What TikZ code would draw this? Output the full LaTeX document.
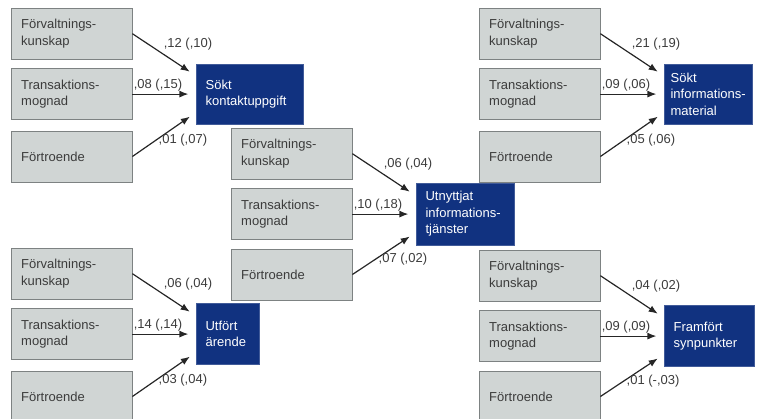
\documentclass[tikz,border=0pt]{standalone}
\usepackage{fontspec}
\setmainfont{Liberation Sans}
\usepackage{tikz}
\usetikzlibrary{positioning}
\usetikzlibrary{arrows.meta}
\definecolor{boxgray}{RGB}{208,213,212}
\definecolor{boxline}{RGB}{125,130,130}
\definecolor{navy}{RGB}{17,50,128}
\definecolor{txtgray}{RGB}{60,60,60}
\tikzset{
    %Define standard arrow tip
    >={Latex[length=9pt,width=7pt]},
    % Define arrow style
    pil/.style={
           ->,
           line width=1.2pt,
           black!85,
           shorten >=8pt,}
}
\newcommand{\nodewidth}{121pt}
\newcommand{\nodeheight}{51pt}
\newcommand{\kun}{Förvaltnings-\\kunskap}
\newcommand{\mog}{Transaktions-\\mognad}
\newcommand{\fort}{Förtroende}
\newcommand{\nohyph}{\hyphenpenalty=10000\exhyphenpenalty=10000\relax}

\begin{document}
\begin{tikzpicture}[x=1pt, y=-1pt, node distance=0pt]
\tikzstyle{nsrc}=[ draw=boxline,
                  rectangle,
                  minimum height=\nodeheight, minimum width=\nodewidth,
                  text width=101pt, inner xsep=10pt, align=left,
                  fill=boxgray, text=txtgray,
                  font=\fontsize{13}{16.5}\selectfont,
                  anchor=north west]
\tikzstyle{nres}=[ draw=navy!80,
                  rectangle,
                  text width=#1, inner xsep=9pt, align=left,
                  fill=navy, text=white,
                  font=\fontsize{13}{16.5}\selectfont\nohyph]
\tikzstyle{lab}=[ text=txtgray, inner sep=2pt,
                  font=\fontsize{13}{15}\selectfont]

\useasboundingbox (0,0) rectangle (760,418);

% kontaktuppgift
\node[nsrc] (kun1) at (11,8) {\kun};
\node[nsrc] (mog1) [below = 9pt of kun1]  {\mog};
\node[nsrc] (fort1) [below = 11pt of mog1] {\fort};
\node[nres=89pt, minimum height=60pt] (kont) [right = 64pt of mog1] {Sökt\\kontaktuppgift};

\path[pil] (kun1.east)  edge node[lab, pos=0.45, above right] {,12 (,10)} ([yshift=18pt]kont.west);
\path[pil] (mog1.east)  edge node[lab, pos=0.4, above] {,08 (,15)} (kont.west);
\path[pil] (fort1.east) edge node[lab, pos=0.37, right] {,01 (,07)} ([yshift=-18pt]kont.west);

% informationstjanster
\node[nsrc] (kun2) at (231,128) {\kun};
\node[nsrc] (mog2) [below = 9pt of kun2]  {\mog};
\node[nsrc] (fort2) [below = 9pt of mog2] {\fort};
\node[nres=80pt, minimum height=62pt] (tjan) [right = 64pt of mog2] {Utnyttjat\\informations-\\tjänster};

\path[pil] (kun2.east)  edge node[lab, pos=0.45, above right] {,06 (,04)} ([yshift=18pt]tjan.west);
\path[pil] (mog2.east)  edge node[lab, pos=0.4, above] {,10 (,18)} (tjan.west);
\path[pil] (fort2.east) edge node[lab, pos=0.37, right] {,07 (,02)} ([yshift=-18pt]tjan.west);

% informationsmaterial
\node[nsrc] (kun3) at (479,8) {\kun};
\node[nsrc] (mog3) [below = 9pt of kun3]  {\mog};
\node[nsrc] (fort3) [below = 11pt of mog3] {\fort};
\node[nres=76pt, inner xsep=6pt, minimum height=60pt] (mat) [right = 64pt of mog3] {Sökt\\informations-\\material};

\path[pil] (kun3.east)  edge node[lab, pos=0.45, above right] {,21 (,19)} ([yshift=18pt]mat.west);
\path[pil] (mog3.east)  edge node[lab, pos=0.4, above] {,09 (,06)} (mat.west);
\path[pil] (fort3.east) edge node[lab, pos=0.37, right] {,05 (,06)} ([yshift=-18pt]mat.west);

% arende
\node[nsrc] (kun4) at (11,248) {\kun};
\node[nsrc] (mog4) [below = 9pt of kun4]  {\mog};
\node[nsrc] (fort4) [below = 11pt of mog4] {\fort};
\node[nres=45pt, minimum height=61pt] (aren) [right = 64pt of mog4] {Utfört\\ärende};

\path[pil] (kun4.east)  edge node[lab, pos=0.45, above right] {,06 (,04)} ([yshift=18pt]aren.west);
\path[pil] (mog4.east)  edge node[lab, pos=0.4, above] {,14 (,14)} (aren.west);
\path[pil] (fort4.east) edge node[lab, pos=0.37, right] {,03 (,04)} ([yshift=-18pt]aren.west);

% synpunkter
\node[nsrc] (kun5) at (479,250) {\kun};
\node[nsrc] (mog5) [below = 9pt of kun5]  {\mog};
\node[nsrc] (fort5) [below = 9pt of mog5] {\fort};
\node[nres=72pt, minimum height=61pt] (synp) [right = 64pt of mog5] {Framfört\\synpunkter};

\path[pil] (kun5.east)  edge node[lab, pos=0.45, above right] {,04 (,02)} ([yshift=18pt]synp.west);
\path[pil] (mog5.east)  edge node[lab, pos=0.4, above] {,09 (,09)} (synp.west);
\path[pil] (fort5.east) edge node[lab, pos=0.37, right] {,01 (-,03)} ([yshift=-18pt]synp.west);

\end{tikzpicture}
\end{document}
